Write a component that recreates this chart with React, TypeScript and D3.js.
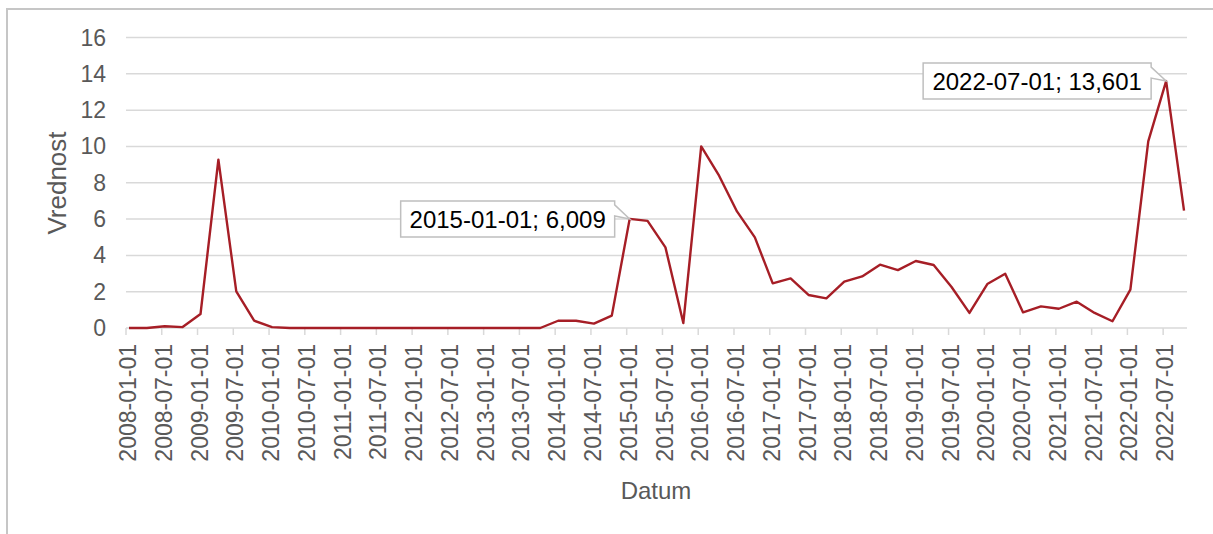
import React from "react";
import * as d3 from "d3";

const dates: string[] = [
  "2008-01-01","2008-04-01","2008-07-01","2008-10-01",
  "2009-01-01","2009-04-01","2009-07-01","2009-10-01",
  "2010-01-01","2010-04-01","2010-07-01","2010-10-01",
  "2011-01-01","2011-04-01","2011-07-01","2011-10-01",
  "2012-01-01","2012-04-01","2012-07-01","2012-10-01",
  "2013-01-01","2013-04-01","2013-07-01","2013-10-01",
  "2014-01-01","2014-04-01","2014-07-01","2014-10-01",
  "2015-01-01","2015-04-01","2015-07-01","2015-10-01",
  "2016-01-01","2016-04-01","2016-07-01","2016-10-01",
  "2017-01-01","2017-04-01","2017-07-01","2017-10-01",
  "2018-01-01","2018-04-01","2018-07-01","2018-10-01",
  "2019-01-01","2019-04-01","2019-07-01","2019-10-01",
  "2020-01-01","2020-04-01","2020-07-01","2020-10-01",
  "2021-01-01","2021-04-01","2021-07-01","2021-10-01",
  "2022-01-01","2022-04-01","2022-07-01","2022-10-01",
];

const values: number[] = [
  0, 0, 0.1, 0.05,
  0.77, 9.27, 2.02, 0.4,
  0.05, 0, 0, 0,
  0, 0, 0, 0,
  0, 0, 0, 0,
  0, 0, 0, 0,
  0.4, 0.4, 0.24, 0.68,
  6.009, 5.9, 4.44, 0.27,
  10.0, 8.39, 6.42, 4.99,
  2.46, 2.73, 1.82, 1.63,
  2.55, 2.84, 3.49, 3.19,
  3.69, 3.47, 2.26, 0.83,
  2.42, 2.99, 0.86, 1.19,
  1.06, 1.45, 0.83, 0.37,
  2.11, 10.28, 13.601, 6.46,
];

const tickLabels: string[] = [
  "2008-01-01","2008-07-01","2009-01-01","2009-07-01","2010-01-01","2010-07-01",
  "2011-01-01","2011-07-01","2012-01-01","2012-07-01","2013-01-01","2013-07-01",
  "2014-01-01","2014-07-01","2015-01-01","2015-07-01","2016-01-01","2016-07-01",
  "2017-01-01","2017-07-01","2018-01-01","2018-07-01","2019-01-01","2019-07-01",
  "2020-01-01","2020-07-01","2021-01-01","2021-07-01","2022-01-01","2022-07-01",
];

const yTicks: number[] = [0, 2, 4, 6, 8, 10, 12, 14, 16];

const annotationDates: string[] = ["2015-01-01", "2022-07-01"];
const annotationLabels: string[] = ["2015-01-01; 6,009", "2022-07-01; 13,601"];

const W = 1213;
const H = 534;
const FONT = "'Liberation Sans', Arial, Helvetica, sans-serif";

// month index since 2008-01
const monthIdx = (s: string) => {
  const [y, m] = s.split("-").map(Number);
  return (y - 2008) * 12 + (m - 1);
};

export default function App() {
  const x = d3.scaleLinear().domain([0, 178]).range([126, 1187]);
  const y = d3.scaleLinear().domain([0, 16]).range([328, 37.5]);

  const px = (s: string) => x(monthIdx(s) + 0.5);

  const line = d3
    .line<number>()
    .x((_, i) => px(dates[i]))
    .y((d) => y(d));

  const tickColor = "#d9d9d9";
  const textColor = "#595959";

  return (
    <svg
      width={W}
      height={H}
      style={{ position: "absolute", left: 0, top: 0, background: "#fff" }}
      fontFamily={FONT}
    >
      <rect x={0} y={0} width={W} height={H} fill="#fff" />
      {/* chart area border (cropped) */}
      <path d={`M7,${H + 5} L7,9 L${W + 5},9`} fill="none" stroke="#c6c6c6" strokeWidth={2} />

      {/* gridlines */}
      {yTicks.map((t) => (
        <line
          key={"g" + t}
          x1={126}
          x2={1187}
          y1={y(t)}
          y2={y(t)}
          stroke={tickColor}
          strokeWidth={1.5}
        />
      ))}

      {/* x tick marks */}
      {tickLabels.map((t) => (
        <line
          key={"t" + t}
          x1={x(monthIdx(t))}
          x2={x(monthIdx(t))}
          y1={y(0)}
          y2={y(0) + 7}
          stroke={tickColor}
          strokeWidth={1.5}
        />
      ))}

      {/* y labels */}
      {yTicks.map((t) => (
        <text
          key={"yl" + t}
          x={106}
          y={y(t)}
          dy="0.35em"
          textAnchor="end"
          fontSize={23}
          fill={textColor}
        >
          {t}
        </text>
      ))}

      {/* x labels */}
      {tickLabels.map((t) => (
        <text
          key={"xl" + t}
          transform={`translate(${x(monthIdx(t)) + 2},${y(0) + 16}) rotate(-90)`}
          dy="0.35em"
          textAnchor="end"
          fontSize={23}
          fill={textColor}
        >
          {t}
        </text>
      ))}

      {/* axis titles */}
      <text
        x={656}
        y={499}
        textAnchor="middle"
        fontSize={24}
        fill={textColor}
      >
        Datum
      </text>
      <text
        transform={`translate(66,183) rotate(-90)`}
        textAnchor="middle"
        fontSize={26}
        fill={textColor}
      >
        Vrednost
      </text>

      {/* series */}
      <path
        d={line(values) || ""}
        fill="none"
        stroke="#a61e26"
        strokeWidth={2.4}
        strokeLinejoin="round"
      />

      {/* callouts */}
      {annotationDates.map((dt, k) => {
        const i = dates.indexOf(dt);
        const tx = px(dt);
        const ty = y(values[i]);
        const label = annotationLabels[k];
        const approxW = k === 0 ? 214 : 228;
        const bh = 36;
        const right = tx - 15;
        const left = right - approxW;
        const top = ty - bh / 2;
        const bottom = ty + bh / 2;
        const d = `M${left},${top} L${right},${top} L${right},${top + 4} L${tx},${ty} L${right},${top + 15} L${right},${bottom} L${left},${bottom} Z`;
        return (
          <g key={"a" + k}>
            <path d={d} fill="#fff" stroke="#bfbfbf" strokeWidth={1.5} />
            <text
              x={(left + right) / 2}
              y={ty}
              dy="0.36em"
              textAnchor="middle"
              fontSize={24}
              fill="#000"
            >
              {label}
            </text>
          </g>
        );
      })}
    </svg>
  );
}
